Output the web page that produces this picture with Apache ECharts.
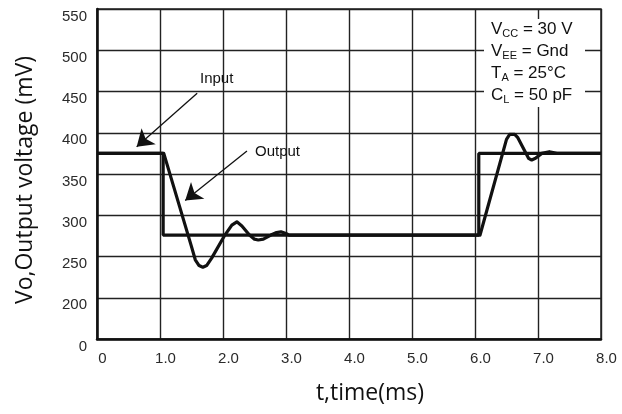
<!DOCTYPE html>
<html>
<head>
<meta charset="utf-8">
<script src="https://cdn.jsdelivr.net/npm/echarts@6/dist/echarts.min.js"></script>
<style>
  html, body { margin: 0; padding: 0; background: #fff; }
  #main { width: 622px; height: 414px; }
</style>
</head>
<body>
<div id="main"></div>
<script>
// time axis (ms) and voltage (mV); the y axis is broken: 150 stands for "0"
var xTicks = [0, 1, 2, 3, 4, 5, 6, 7, 8]
var yTicks = [150, 200, 250, 300, 350, 400, 450, 500, 550]

var inputT = [0, 1.05, 1.05, 6.06, 6.06, 8]
var inputV = [375, 375, 276, 276, 375, 375]

// output waveform
var outputT = [0, 1.06, 1.5, 1.56, 1.62, 1.68, 1.74, 1.82, 2.03, 2.14, 2.22, 2.3, 2.42, 2.5, 2.56, 2.64, 2.76, 2.85, 2.92, 3.0, 3.05,
  6.08, 6.5, 6.55, 6.63, 6.68, 6.85, 6.9, 6.96, 7.06, 7.18, 7.3, 8]
var outputV = [375, 375, 262, 246, 239, 237, 239, 248, 276, 288, 292, 287, 276, 271, 270, 271, 276, 279, 280, 278, 276,
  276, 392, 398, 398, 394, 369, 367, 369, 375, 377, 375, 375]

var params = [
  ['V', 'CC', ' = 30 V'],
  ['V', 'EE', ' = Gnd'],
  ['T', 'A', ' = 25°C'],
  ['C', 'L', ' = 50 pF']
]

function pairs (xs, ys) {
  return xs.map(function (x, i) { return [x, ys[i]] })
}

var tickFont = {
  fontFamily: 'Liberation Sans, Arial',
  fontSize: 15,
  color: '#2a2a2a'
}

var chart = echarts.init(document.getElementById('main'))

var paramText = params.map(function (p) {
  return '{m|' + p[0] + '}{s|' + p[1] + '}{m|' + p[2] + '}'
}).join('\n')

chart.setOption({
  animation: false,
  backgroundColor: '#fff',
  grid: {
    left: 97,
    right: 21,
    top: 9,
    bottom: 75,
    show: true,
    borderColor: '#222',
    borderWidth: 1.5
  },
  xAxis: {
    type: 'value',
    min: 0,
    max: 8,
    interval: 1,
    name: 't,time(ms)',
    nameLocation: 'middle',
    nameGap: 43,
    nameTextStyle: {
      fontFamily: 'Open Sans',
      fontSize: 23,
      color: '#111',
      padding: [0, 0, 0, 42]
    },
    axisLine: { show: true, lineStyle: { color: '#111', width: 2.5 } },
    axisTick: { show: false },
    axisLabel: Object.assign({
      margin: 12,
      padding: [0, 0, 0, 11],
      formatter: function (v) { return v === 0 ? '0' : v.toFixed(1) }
    }, tickFont),
    splitLine: { show: true, lineStyle: { color: '#222', width: 1.4 } }
  },
  yAxis: {
    type: 'value',
    min: 150,
    max: 550,
    interval: 50,
    name: 'Vo,Output voltage (mV)',
    nameLocation: 'middle',
    nameGap: 60,
    nameTextStyle: {
      fontFamily: 'Open Sans',
      fontSize: 23,
      color: '#111',
      padding: [0, 12, 0, 0]
    },
    axisLine: { show: true, lineStyle: { color: '#111', width: 2.5 } },
    axisTick: { show: false },
    axisLabel: Object.assign({
      margin: 10,
      verticalAlign: 'top',
      formatter: function (v) { return v === 150 ? '0' : String(v) }
    }, tickFont),
    splitLine: { show: true, lineStyle: { color: '#222', width: 1.4 } }
  },
  graphic: [
    {
      type: 'rect',
      left: 484,
      top: 19,
      shape: { width: 101, height: 88 },
      style: { fill: '#fff' },
      z: 50
    },
    {
      type: 'text',
      left: 491,
      top: 19,
      z: 51,
      style: {
        text: paramText,
        fill: '#111',
        rich: {
          m: { fontFamily: 'Liberation Sans, Arial', fontSize: 17, lineHeight: 22 },
          s: { fontFamily: 'Liberation Sans, Arial', fontSize: 11, lineHeight: 22, padding: [9, 0, 0, 0] }
        }
      }
    },
    {
      type: 'text',
      left: 200,
      top: 71,
      z: 51,
      style: { text: 'Input', fill: '#111', font: '15px Liberation Sans, Arial' }
    },
    {
      type: 'text',
      left: 255,
      top: 144,
      z: 51,
      style: { text: 'Output', fill: '#111', font: '15px Liberation Sans, Arial' }
    }
  ],
  series: [
    {
      name: 'Input',
      type: 'line',
      data: pairs(inputT, inputV),
      showSymbol: false,
      lineStyle: { color: '#111', width: 3.2 },
      z: 5,
      markLine: {
        silent: true,
        symbol: ['none', 'arrow'],
        symbolSize: 16,
        label: { show: false },
        lineStyle: { color: '#111', width: 1.3, type: 'solid' },
        data: [
          [{ coord: [1.59, 448] }, { coord: [0.63, 383] }],
          [{ coord: [2.38, 378] }, { coord: [1.4, 318] }]
        ]
      }
    },
    {
      name: 'Output',
      type: 'line',
      data: pairs(outputT, outputV),
      showSymbol: false,
      lineStyle: { color: '#111', width: 3.2, join: 'round' },
      z: 6
    }
  ]
})
</script>
</body>
</html>
